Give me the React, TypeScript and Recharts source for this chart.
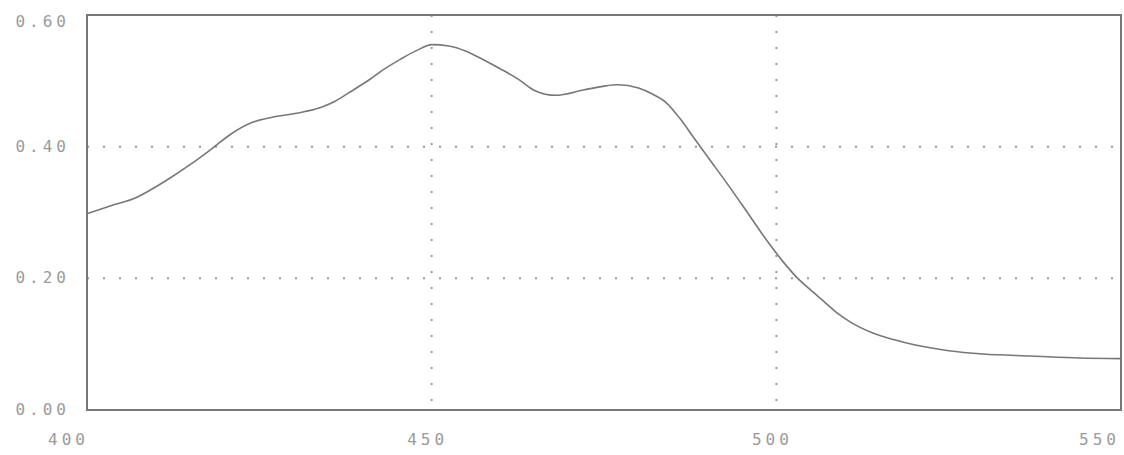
import React from 'react';
import {
  LineChart,
  Line,
  XAxis,
  YAxis,
  CartesianGrid,
  ReferenceArea,
} from 'recharts';

// wavelength (nm)
const wavelengths = [
  400, 404, 407, 409, 412, 415, 418, 421, 424, 427, 431, 434, 436, 438, 441, 443,
  445.5, 448, 450, 452.5, 455, 457.5, 460, 462.5, 465, 468, 472, 475, 477, 480,
  482, 484, 486, 488, 490, 493, 496, 499, 501, 503, 505, 507, 509, 511, 514, 517,
  520, 525, 530, 537, 544, 550,
];

// absorbance at each wavelength
const absorbance = [
  0.298, 0.312, 0.322, 0.333, 0.352, 0.373, 0.396, 0.42, 0.437, 0.445, 0.452, 0.46,
  0.469, 0.482, 0.502, 0.517, 0.533, 0.547, 0.555, 0.553, 0.545, 0.532, 0.518, 0.503,
  0.485, 0.478, 0.486, 0.492, 0.494, 0.489, 0.48, 0.467, 0.443, 0.414, 0.385, 0.342,
  0.297, 0.252, 0.225, 0.201, 0.182, 0.164, 0.146, 0.132, 0.117, 0.107, 0.099, 0.09,
  0.085, 0.082, 0.079, 0.078,
];

const xTicks = [400, 450, 500, 550];
const yTicks = [0, 0.2, 0.4, 0.6];

const data = wavelengths.map((nm, i) => ({ nm, abs: absorbance[i] }));

const INK = '#9a9a9a';
const FONT = '"DejaVu Sans Mono", monospace';

function XTick({ x, y, payload, index }: any) {
  const first = index === 0;
  const last = index === xTicks.length - 1;
  let anchor: 'start' | 'middle' | 'end' = 'middle';
  let tx = x - 4;
  if (first) {
    anchor = 'end';
    tx = x + 2;
  } else if (last) {
    anchor = 'end';
    tx = x + 8;
  }
  return (
    <text
      x={tx}
      y={y + 27}
      textAnchor={anchor}
      fill={INK}
      fontFamily={FONT}
      fontSize={16}
      letterSpacing={4}
    >
      {payload.value}
    </text>
  );
}

function YTick({ x, y, payload }: any) {
  const top = payload.value === 0.6;
  return (
    <text
      x={x - 9}
      y={top ? y + 12 : y + 5}
      textAnchor="end"
      fill={INK}
      fontFamily={FONT}
      fontSize={16}
      letterSpacing={4}
    >
      {payload.value.toFixed(2)}
    </text>
  );
}

export default function App() {
  return (
    <div style={{ position: 'absolute', left: 0, top: 0, width: 1124, height: 455, background: '#fff' }}>
      <LineChart width={1124} height={455} data={data} margin={{ top: 15, right: 3, bottom: 0, left: 0 }}>
        <CartesianGrid
          stroke="#999"
          strokeWidth={2}
          strokeDasharray="2 14"
          horizontalValues={[0.2, 0.4]}
          verticalValues={[450, 500]}
        />
        <XAxis
          dataKey="nm"
          type="number"
          domain={[400, 550]}
          ticks={xTicks}
          tick={<XTick />}
          tickLine={false}
          axisLine={false}
          height={45}
        />
        <YAxis
          type="number"
          domain={[0, 0.6]}
          ticks={yTicks}
          tick={<YTick />}
          tickLine={false}
          axisLine={false}
          width={87}
        />
        <ReferenceArea x1={400} x2={550} y1={0} y2={0.6} fill="none" stroke="#777" strokeWidth={2} />
        <Line
          type="monotone"
          dataKey="abs"
          stroke="#777"
          strokeWidth={1.6}
          dot={false}
          isAnimationActive={false}
        />
      </LineChart>
    </div>
  );
}
